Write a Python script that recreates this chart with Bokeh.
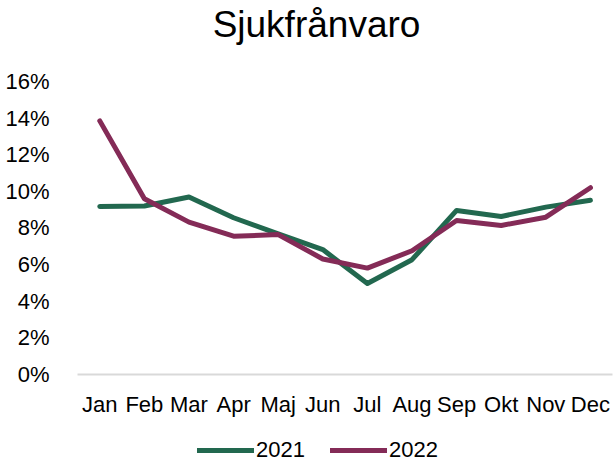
from bokeh.plotting import figure
from bokeh.models import (ColumnDataSource, FixedTicker, NumeralTickFormatter, Legend, LegendItem,
                          Range1d, Label, LinearAxis)
from bokeh.embed import file_html
from bokeh.resources import INLINE

months = ["Jan", "Feb", "Mar", "Apr", "Maj", "Jun", "Jul", "Aug", "Sep", "Okt", "Nov", "Dec"]
sick_2021 = [9.18, 9.2, 9.69, 8.56, 7.68, 6.82, 4.97, 6.27, 8.96, 8.63, 9.14, 9.51]
sick_2022 = [13.85, 9.6, 8.32, 7.55, 7.64, 6.31, 5.81, 6.76, 8.41, 8.14, 8.59, 10.2]
y_ticks = [0, 2, 4, 6, 8, 10, 12, 14, 16]
series_names = ["2021", "2022"]
title_text = "Sjukfrånvaro"

idx = list(range(len(months)))
src = ColumnDataSource(dict(
    x=idx,
    a=[v / 100 for v in sick_2021],
    b=[v / 100 for v in sick_2022],
))

FONT = "Liberation Sans"
GREEN = "#22684F"
MAROON = "#842B57"

W, H = 614, 463
p = figure(width=W, height=H, x_range=Range1d(-2.226, 11.54), y_range=Range1d(-0.0486, 0.20423),
           output_backend="svg", toolbar_location=None, x_axis_location=None, y_axis_location=None,
           min_border_left=0, min_border_right=0, min_border_top=0, min_border_bottom=0)
p.outline_line_color = None
p.xgrid.grid_line_color = None
p.ygrid.grid_line_color = None

r1 = p.line("x", "a", source=src, line_color=GREEN, line_width=5, line_join="round", line_cap="round")
r2 = p.line("x", "b", source=src, line_color=MAROON, line_width=5, line_join="round", line_cap="round")

yax = LinearAxis(fixed_location=-0.5, bounds=(0, 0.16))
yax.ticker = FixedTicker(ticks=[t / 100 for t in y_ticks])
yax.formatter = NumeralTickFormatter(format="0%")
yax.axis_line_color = None
yax.major_tick_line_color = None
yax.minor_tick_line_color = None
yax.major_label_text_font = FONT
yax.major_label_text_font_size = "22px"
yax.major_label_text_color = "#000000"
yax.major_label_standoff = 22
p.add_layout(yax, "left")

xax = LinearAxis(fixed_location=0, bounds=(-0.5, len(months) - 0.5))
xax.ticker = FixedTicker(ticks=idx)
xax.major_label_overrides = {i: m for i, m in zip(idx, months)}
xax.axis_line_color = "#D9D9D9"
xax.axis_line_width = 2
xax.major_tick_line_color = None
xax.minor_tick_line_color = None
xax.major_label_text_font = FONT
xax.major_label_text_font_size = "22px"
xax.major_label_text_color = "#000000"
xax.major_label_standoff = 11
p.add_layout(xax, "below")

title = Label(x=316, y=H - 24, x_units="screen", y_units="screen", text=title_text,
              text_font=FONT, text_font_size="37px", text_color="#000000",
              text_align="center", text_baseline="middle")
p.add_layout(title)

legend = Legend(items=[LegendItem(label=series_names[0], renderers=[r1]),
                       LegendItem(label=series_names[1], renderers=[r2])],
                orientation="horizontal", location=(197, 0),
                label_text_font=FONT, label_text_font_size="22px", label_text_color="#000000",
                glyph_width=57, glyph_height=22, spacing=25, label_standoff=2, border_line_color=None,
                background_fill_alpha=0, padding=0, margin=0)
p.add_layout(legend)

open("out.html", "w").write(file_html(p, INLINE))
